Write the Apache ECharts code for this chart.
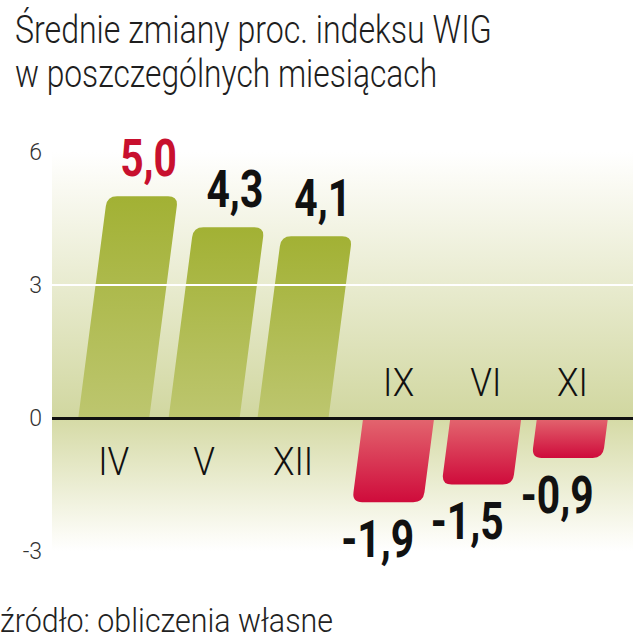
<!DOCTYPE html>
<html>
<head>
<meta charset="utf-8">
<script src="https://cdn.jsdelivr.net/npm/echarts@6/dist/echarts.min.js"></script>
<style>
html,body{margin:0;padding:0;background:#ffffff;}
#chart{width:633px;height:640px;}
</style>
</head>
<body>
<div id="chart"></div>
<script>
// ---- data ----
const categories = ['IV', 'V', 'XII', 'IX', 'VI', 'XI'];
const values = [5.0, 4.3, 4.1, -1.9, -1.5, -0.9];
const highlighted = ['IV'];           // value label drawn in red
const yMin = -3, yMax = 6, yStep = 3;
const titleLines = ['Średnie zmiany proc. indeksu WIG', 'w poszczególnych miesiącach'];
const sourceText = 'źródło: obliczenia własne';

// ---- styles ----
const FONT = 'Roboto';
const LIGHT = 300;
const fmt = v => v.toFixed(1).replace('.', ',');

const mctx = document.createElement('canvas').getContext('2d');
function textWidth(t, size, weight) {
  mctx.font = (weight || 'normal') + ' ' + size + 'px ' + FONT;
  return mctx.measureText(t).width;
}
function fitScale(t, size, target, weight) { return target / textWidth(t, size, weight); }

function toward(a, b, d) {
  const dx = b[0] - a[0], dy = b[1] - a[1], L = Math.hypot(dx, dy) || 1;
  return [a[0] + dx / L * d, a[1] + dy / L * d];
}
function pt(p) { return p[0].toFixed(2) + ' ' + p[1].toFixed(2); }
function roundedPath(p0, p1, p2, p3, r) {
  const a = toward(p2, p1, r), b = toward(p2, p3, r), c = toward(p3, p2, r), d = toward(p3, p0, r);
  return 'M' + pt(p0) + ' L' + pt(p1) + ' L' + pt(a) + ' Q' + pt(p2) + ' ' + pt(b) +
         ' L' + pt(c) + ' Q' + pt(p3) + ' ' + pt(d) + ' Z';
}

const VAL_SIZE = 51, VAL_SCALE = 0.8;

function renderItem(params, api) {
  const i = api.value(0), v = api.value(1);
  const n = api.coord([i, 0]), f = api.coord([i, v]);
  const cx = n[0], y0 = n[1], y1 = f[1], ym = (y0 + y1) / 2;
  const w = 71, k = 0.13, r = 10;
  const off = y => (ym - y) * k;
  const xn = cx + off(y0), xf = cx + off(y1);
  const pos = v >= 0;
  const p0 = [xn - w / 2, y0], p1 = [xn + w / 2, y0], p2 = [xf + w / 2, y1], p3 = [xf - w / 2, y1];
  const fill = pos
    ? { type: 'linear', x: 0, y: 0, x2: 0, y2: 1, colorStops: [{ offset: 0, color: '#a2b134' }, { offset: 1, color: '#bdc66f' }] }
    : { type: 'linear', x: 0, y: 0, x2: 0, y2: 1, colorStops: [{ offset: 0, color: '#e3666f' }, { offset: 1, color: '#cf0b3b' }] };
  const cat = categories[i];
  const labelColor = highlighted.indexOf(cat) >= 0 ? '#c8102e' : '#111111';
  return {
    type: 'group',
    children: [
      { type: 'path', shape: { pathData: roundedPath(p0, p1, p2, p3, r) }, style: { fill: fill } },
      { type: 'text', x: pos ? xf + 6 : xf - 10, y: pos ? y1 - 38 : y1 + 37, scaleX: VAL_SCALE,
        style: { text: fmt(v), x: 0, y: 0, align: 'center', verticalAlign: 'middle',
          fontFamily: FONT, fontWeight: 'bold', fontSize: VAL_SIZE, fill: labelColor } },
      { type: 'text', x: xn, y: pos ? y0 + 44 : y0 - 35, scaleX: 0.9,
        style: { text: cat, x: 0, y: 0, align: 'center', verticalAlign: 'middle',
          fontFamily: FONT, fontWeight: LIGHT, fontSize: 39, fill: '#111111' } }
    ]
  };
}

const TITLE_SIZE = 38;
const chart = echarts.init(document.getElementById('chart'), null, { renderer: 'svg' });
chart.setOption({
  animation: false,
  backgroundColor: '#ffffff',
  graphic: [
    { type: 'text', x: 15, y: 30, scaleX: fitScale(titleLines[0], TITLE_SIZE, 477, LIGHT),
      style: { text: titleLines[0], fontFamily: FONT, fontWeight: LIGHT, fontSize: TITLE_SIZE, fill: '#1e1e1e', align: 'left', verticalAlign: 'middle' } },
    { type: 'text', x: 15, y: 75, scaleX: fitScale(titleLines[1], TITLE_SIZE, 422, LIGHT),
      style: { text: titleLines[1], fontFamily: FONT, fontWeight: LIGHT, fontSize: TITLE_SIZE, fill: '#1e1e1e', align: 'left', verticalAlign: 'middle' } },
    { type: 'text', x: 0, y: 621, scaleX: fitScale(sourceText, 33, 333, LIGHT),
      style: { text: sourceText, fontFamily: FONT, fontWeight: LIGHT, fontSize: 33, fill: '#222222', align: 'left', verticalAlign: 'middle' } }
  ],
  grid: [
    { left: 52, right: 0, top: 152, bottom: 89 },
    { left: 84, right: 19, top: 152, bottom: 89 }
  ],
  xAxis: [
    { gridIndex: 0, type: 'value', min: 0, max: 1, show: false },
    { gridIndex: 1, type: 'category', data: categories, show: false }
  ],
  yAxis: [
    { gridIndex: 0, type: 'value', min: yMin, max: yMax, interval: yStep,
      axisLine: { show: false }, axisTick: { show: false }, splitLine: { show: false },
      axisLabel: { margin: 10, fontFamily: FONT, fontWeight: LIGHT, fontSize: 23, color: '#333333' } },
    { gridIndex: 1, type: 'value', min: yMin, max: yMax, interval: yStep, show: false }
  ],
  series: [
    {
      type: 'line', xAxisIndex: 0, yAxisIndex: 0, data: [], silent: true,
      markArea: {
        silent: true,
        data: [
          [{ yAxis: yMax, itemStyle: { color: { type: 'linear', x: 0, y: 0, x2: 0, y2: 1,
              colorStops: [{ offset: 0, color: '#ffffff' }, { offset: 0.12, color: '#fafaf3' }, { offset: 1, color: '#d1d7a0' }] } } },
           { yAxis: 0 }],
          [{ yAxis: 0, itemStyle: { color: { type: 'linear', x: 0, y: 0, x2: 0, y2: 1,
              colorStops: [{ offset: 0, color: '#d5daa5' }, { offset: 0.85, color: '#fafaf2' }, { offset: 1, color: '#ffffff' }] } } },
           { yAxis: yMin }]
        ]
      },
      markLine: {
        silent: true, symbol: 'none', label: { show: false },
        data: [
          { yAxis: yStep, lineStyle: { color: '#ffffff', width: 2, type: 'solid' } },
          { yAxis: 0, lineStyle: { color: '#111111', width: 3, type: 'solid' } }
        ]
      }
    },
    {
      type: 'custom', xAxisIndex: 1, yAxisIndex: 1,
      renderItem: renderItem,
      encode: { x: 0, y: 1 },
      data: values.map((v, i) => [i, v])
    }
  ]
});
</script>
</body>
</html>
